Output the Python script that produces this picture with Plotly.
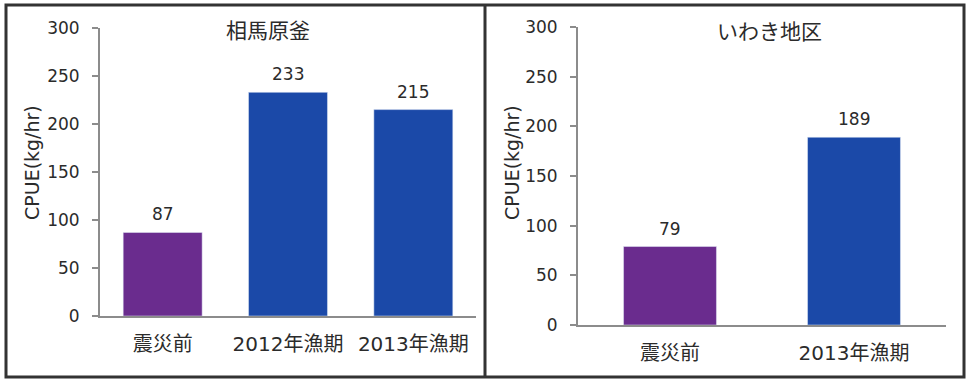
import plotly.graph_objects as go

# 相馬原釜
soma_cats = ["震災前", "2012年漁期", "2013年漁期"]
soma_cpue = [87, 233, 215]
# いわき地区
iwaki_cats = ["震災前", "2013年漁期"]
iwaki_cpue = [79, 189]

y_ticks = [0, 50, 100, 150, 200, 250, 300]

W, H = 966, 380
PURPLE = "#6a2c8e"
BLUE = "#1b49a8"
AXIS = "#8c8c8c"
TXT = "#2b2b2b"
FONT = "DejaVu Sans, Noto Sans CJK JP"
CJK = "Noto Sans CJK JP"


def px_x(v):
    return v / W


def px_y(v):
    return (H - v) / H


def colors(cats):
    return [PURPLE if c == "震災前" else BLUE for c in cats]


fig = go.Figure()
fig.add_trace(go.Bar(x=soma_cats, y=soma_cpue, marker_color=colors(soma_cats),
                     xaxis="x", yaxis="y", width=0.63, cliponaxis=False))
fig.add_trace(go.Bar(x=iwaki_cats, y=iwaki_cpue, marker_color=colors(iwaki_cats),
                     xaxis="x2", yaxis="y2", width=0.505, cliponaxis=False))

# 値ラベル
ann = []
for c, v in zip(soma_cats, soma_cpue):
    ann.append(dict(x=c, y=v, xref="x", yref="y", text=str(v), showarrow=False,
                    xanchor="center", yanchor="bottom", yshift=6,
                    font=dict(size=17, color=TXT)))
for c, v in zip(iwaki_cats, iwaki_cpue):
    ann.append(dict(x=c, y=v, xref="x2", yref="y2", text=str(v), showarrow=False,
                    xanchor="center", yanchor="bottom", yshift=6,
                    font=dict(size=17, color=TXT)))

# タイトル・軸タイトル
labels = [
    (268, 29, "相馬原釜", 0, 21, CJK),
    (769, 30, "いわき地区", 0, 21, CJK),
    (32, 163, "CPUE(kg/hr)", -90, 19, FONT),
    (512, 163, "CPUE(kg/hr)", -90, 19, FONT),
]
for x, y, t, ang, sz, fam in labels:
    ann.append(dict(x=px_x(x), y=px_y(y), xref="paper", yref="paper", text=t,
                    textangle=ang, showarrow=False, xanchor="center", yanchor="middle",
                    font=dict(size=sz, color=TXT, family=fam)))

yaxis_common = dict(range=[0, 300], tickvals=y_ticks, showgrid=False, zeroline=False,
                    showline=True, linecolor=AXIS, linewidth=2, ticks="outside",
                    ticklen=6, tickwidth=2, tickcolor=AXIS, ticklabelstandoff=9,
                    automargin=False, tickfont=dict(size=17, color=TXT))
xaxis_common = dict(showgrid=False, showline=True, linecolor=AXIS, linewidth=2,
                    ticks="", ticklabelstandoff=9, automargin=False,
                    tickfont=dict(size=20, color=TXT))

fig.update_layout(
    width=W, height=H,
    margin=dict(l=0, r=0, t=0, b=0, autoexpand=False),
    paper_bgcolor="white", plot_bgcolor="white",
    font=dict(family=FONT, color=TXT),
    showlegend=False,
    xaxis=dict(domain=[px_x(100), px_x(476)], anchor="y", **xaxis_common),
    yaxis=dict(domain=[px_y(316), px_y(28)], anchor="x", **yaxis_common),
    xaxis2=dict(domain=[px_x(578), px_x(946)], anchor="y2", **xaxis_common),
    yaxis2=dict(domain=[px_y(325), px_y(27)], anchor="x2", **yaxis_common),
    annotations=ann,
    shapes=[
        dict(type="rect", xref="paper", yref="paper", x0=px_x(6), x1=px_x(964),
             y0=px_y(377), y1=px_y(5), line=dict(color="#333333", width=3)),
        dict(type="line", xref="paper", yref="paper", x0=px_x(485), x1=px_x(485),
             y0=px_y(377), y1=px_y(5), line=dict(color="#333333", width=3)),
    ],
)

fig.write_html("out.html", config={"displayModeBar": False},
               post_script="document.body.style.margin='0';")
